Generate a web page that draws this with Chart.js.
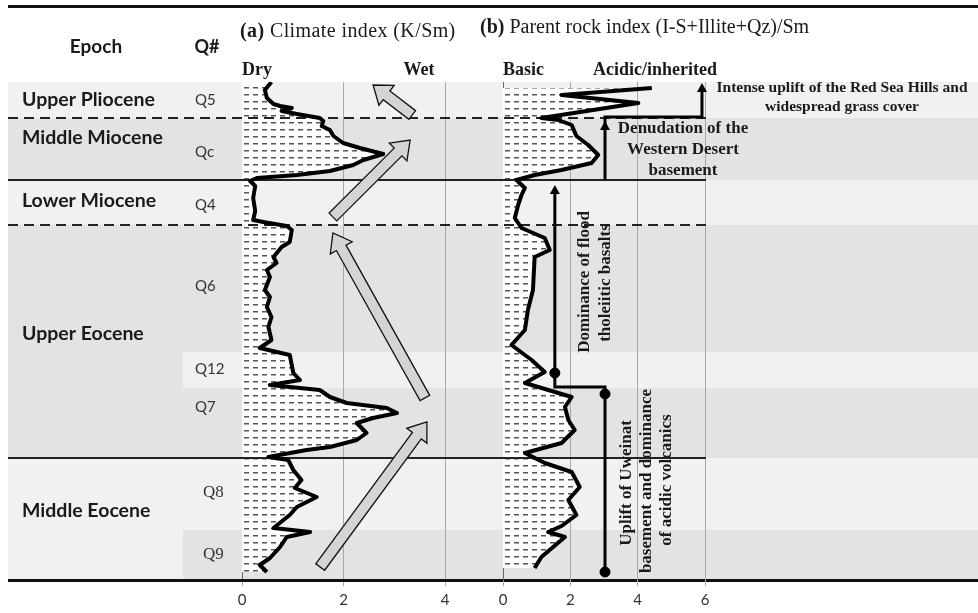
<!DOCTYPE html>
<html>
<head>
<meta charset="utf-8">
<script src="https://cdn.jsdelivr.net/npm/chart.js@4.4.1/dist/chart.umd.min.js"></script>
<style>
  body { margin: 0; background: #fff; }
  #wrap { position: relative; width: 978px; height: 613px; }
  #wrap canvas { position: absolute; left: 0; top: 0; }
</style>
</head>
<body>
<div id="wrap">
  <canvas id="climateChart" width="978" height="613"></canvas>
  <canvas id="rockChart" width="978" height="613"></canvas>
</div>
<script>
// stratigraphic position: 0 = top of the section, 498 = base
const climateDepth = [0, 8, 16, 22, 24, 26, 29, 32, 36, 39, 44, 48, 54, 61, 66, 72, 78, 83, 89, 93, 96, 99, 104, 116, 129, 138, 140, 144, 148, 160, 165, 175, 181, 188, 195, 208, 215, 225, 235, 245, 258, 266, 273, 291, 298, 303, 308, 315, 321, 326, 331, 336, 341, 351, 358, 365, 368, 375, 378, 388, 398, 406, 415, 425, 433, 446, 450, 455, 465, 476, 483, 490];
const climateIndex = [0.58, 0.45, 0.49, 0.62, 0.75, 0.98, 0.78, 1.08, 1.53, 1.60, 1.57, 1.73, 1.80, 1.99, 2.32, 2.78, 2.39, 2.19, 1.73, 1.08, 0.29, 0.16, 0.26, 0.22, 0.26, 0.22, 0.42, 0.88, 0.98, 0.94, 0.78, 0.62, 0.68, 0.49, 0.55, 0.45, 0.55, 0.49, 0.58, 0.52, 0.58, 0.35, 0.94, 1.01, 1.14, 0.55, 1.53, 1.73, 2.06, 2.85, 3.05, 2.58, 2.26, 2.45, 2.26, 1.73, 1.27, 0.52, 0.91, 1.01, 1.17, 1.04, 1.47, 1.08, 0.94, 0.62, 1.34, 0.88, 0.75, 0.55, 0.35, 0.49];

const rockDepth = [6, 13, 21, 36, 38, 43, 54, 63, 73, 81, 88, 93, 98, 106, 113, 123, 136, 146, 156, 168, 175, 208, 228, 248, 263, 278, 290, 301, 315, 325, 338, 348, 361, 371, 381, 390, 405, 418, 433, 444, 450, 455, 465, 475, 486];
const rockIndex = [4.42, 1.74, 4.02, 1.14, 1.64, 2.04, 2.18, 2.53, 2.83, 2.63, 1.74, 0.94, 0.40, 0.65, 0.55, 0.45, 0.35, 0.55, 1.24, 1.39, 0.94, 0.89, 0.74, 0.65, 0.25, 0.85, 1.24, 0.65, 2.04, 1.84, 1.94, 2.13, 1.74, 0.65, 1.24, 2.04, 2.28, 1.94, 2.18, 1.74, 1.34, 1.84, 1.49, 1.14, 0.94];

// provenance steps drawn on panel (b)
const basaltStepX = [3.03, 3.03, 1.54, 1.54];
const basaltStepY = [490, 305, 305, 106];
const denudStepX = [3.03, 3.03, 5.91, 5.91];
const denudStepY = [98, 35, 35, 4];
const stepDotX = [3.03, 3.03, 1.54];
const stepDotY = [490, 312, 291];

// trend arrows on panel (a): tail index, tail depth, tip index, tip depth
const trendTailX = [3.35, 1.79, 3.60, 1.54];
const trendTailY = [33, 135, 316, 485];
const trendTipX = [2.58, 3.31, 1.79, 3.64];
const trendTipY = [3, 58, 151, 340];

const epochNames = ['Upper Pliocene', 'Middle Miocene', 'Lower Miocene', 'Upper Eocene', 'Middle Eocene'];
const epochTops = [0, 36, 98, 143, 376];
const epochBases = [36, 98, 143, 376, 498];
const epochLabelAt = [18, 56, 119, 252, 429];
const qNames = ['Q5', 'Qc', 'Q4', 'Q6', 'Q12', 'Q7', 'Q8', 'Q9'];
const qLabelAt = [18, 70, 123, 204, 287, 325, 411, 473];
const subTops = [270, 448];
const subBases = [306, 498];
const dividerAt = [36, 98, 143, 376];
const dividerDashed = [true, false, true, false];

const climateTicks = [0, 2, 4];
const rockTicks = [0, 2, 4, 6];

const SERIF = '"Liberation Serif", "Times New Roman", serif';
const SANS = 'Lato, "Open Sans", sans-serif';
const LIGHT = '#f1f1f1', DARK = '#e3e3e3';
const epochShade = [LIGHT, DARK, LIGHT, DARK, LIGHT];
const subShade = [LIGHT, DARK];

function dashPattern() {
  const c = document.createElement('canvas');
  c.width = 9; c.height = 7;
  const g = c.getContext('2d');
  g.fillStyle = '#fff';
  g.fillRect(0, 0, 9, 7);
  g.fillStyle = '#555';
  g.fillRect(1, 3, 5, 1.5);
  return g.createPattern(c, 'repeat');
}

function text(ctx, s, x, y, font, align, color) {
  ctx.font = font;
  ctx.textAlign = align || 'left';
  ctx.textBaseline = 'middle';
  ctx.fillStyle = color || '#1a1a1a';
  ctx.fillText(s, x, y);
}

function upText(ctx, s, x, y, font) {
  ctx.save();
  ctx.translate(x, y);
  ctx.rotate(-Math.PI / 2);
  text(ctx, s, 0, 0, font, 'center');
  ctx.restore();
}

function blockArrow(ctx, x1, y1, x2, y2) {
  const dx = x2 - x1, dy = y2 - y1, len = Math.hypot(dx, dy);
  const ux = dx / len, uy = dy / len, nx = -uy, ny = ux;
  const w = 5.5, hw = 12.5, hl = 17;
  const bx = x2 - ux * hl, by = y2 - uy * hl;
  ctx.beginPath();
  ctx.moveTo(x1 + nx * w, y1 + ny * w);
  ctx.lineTo(bx + nx * w, by + ny * w);
  ctx.lineTo(bx + nx * hw, by + ny * hw);
  ctx.lineTo(x2, y2);
  ctx.lineTo(bx - nx * hw, by - ny * hw);
  ctx.lineTo(bx - nx * w, by - ny * w);
  ctx.lineTo(x1 - nx * w, y1 - ny * w);
  ctx.closePath();
  ctx.fillStyle = '#d4d4d4';
  ctx.fill();
  ctx.strokeStyle = '#111';
  ctx.lineWidth = 1.3;
  ctx.stroke();
}

function upHead(ctx, x, y) {
  ctx.beginPath();
  ctx.moveTo(x, y);
  ctx.lineTo(x - 5, y + 9);
  ctx.lineTo(x + 5, y + 9);
  ctx.closePath();
  ctx.fillStyle = '#000';
  ctx.fill();
}

function drawDividers(chart, left, right) {
  const {ctx, scales: {y}} = chart;
  ctx.save();
  ctx.beginPath();
  ctx.rect(left, 0, right - left, chart.height);
  ctx.clip();
  ctx.strokeStyle = '#222';
  ctx.lineWidth = 2;
  dividerAt.forEach((d, i) => {
    ctx.setLineDash(dividerDashed[i] ? [10, 6] : []);
    const py = Math.round(y.getPixelForValue(d));
    ctx.beginPath();
    ctx.moveTo(8, py);
    ctx.lineTo(706, py);
    ctx.stroke();
  });
  ctx.restore();
}

function depthAxis() {
  return {
    type: 'linear', min: 0, max: 498, reverse: true,
    ticks: { display: false },
    grid: { display: false, drawTicks: false },
    border: { display: true, dash: [1, 2], color: '#666', width: 1 }
  };
}

function indexAxis(max, ticks) {
  return {
    type: 'linear', position: 'bottom', min: 0, max: max,
    afterBuildTicks: s => { s.ticks = ticks.map(v => ({ value: v })); },
    afterFit: s => { s.height = 27; },
    grid: {
      color: c => (c.tick && c.tick.value === 0) ? 'rgba(0,0,0,0)' : '#a8a8a8',
      tickColor: '#a8a8a8', tickLength: 6, lineWidth: 1
    },
    border: { display: false },
    ticks: { font: { family: 'Lato', size: 15 }, color: '#333', padding: 5 }
  };
}

const pattern = dashPattern();

// panel (a) plus the shared section background
const sectionDecor = {
  id: 'sectionDecor',
  beforeDraw(chart) {
    const {ctx, scales: {y}} = chart;
    ctx.save();
    ctx.fillStyle = '#fff';
    ctx.fillRect(0, 0, chart.width, chart.height);
    epochTops.forEach((t, i) => {
      const y0 = y.getPixelForValue(t), y1 = y.getPixelForValue(epochBases[i]);
      ctx.fillStyle = epochShade[i];
      ctx.fillRect(8, y0, chart.width - 8, y1 - y0);
    });
    subTops.forEach((t, i) => {
      const y0 = y.getPixelForValue(t), y1 = y.getPixelForValue(subBases[i]);
      ctx.fillStyle = subShade[i];
      ctx.fillRect(183, y0, chart.width - 183, y1 - y0);
    });
    ctx.restore();
  },
  beforeDatasetsDraw(chart) {
    drawDividers(chart, 0, 500);
  },
  afterDraw(chart) {
    const {ctx, scales: {x, y}} = chart;
    ctx.save();
    // frame lines
    ctx.fillStyle = '#111';
    ctx.fillRect(8, 5, chart.width - 8, 3);
    ctx.fillRect(8, Math.round(y.getPixelForValue(498)) - 1, chart.width - 8, 3);

    trendTailX.forEach((v, i) => {
      blockArrow(ctx, x.getPixelForValue(v), y.getPixelForValue(trendTailY[i]),
        x.getPixelForValue(trendTipX[i]), y.getPixelForValue(trendTipY[i]));
    });

    text(ctx, 'Epoch', 96, 47, 'bold 19px ' + SANS, 'center');
    text(ctx, 'Q#', 207, 47, 'bold 18px ' + SANS, 'center');
    epochNames.forEach((s, i) => text(ctx, s, 22, y.getPixelForValue(epochLabelAt[i]), 'bold 19.5px ' + SANS));
    qNames.forEach((s, i) => {
      const serif = s === 'Q8' || s === 'Q9';
      text(ctx, s, serif ? 203 : 195, y.getPixelForValue(qLabelAt[i]),
        serif ? '17px ' + SERIF : '15px ' + SANS, 'left', '#333');
    });

    ctx.letterSpacing = '0.4px';
    text(ctx, '(a)', 240, 32, 'bold 20px ' + SERIF);
    let w = ctx.measureText('(a) ').width;
    text(ctx, 'Climate index (K/Sm)', 240 + w, 32, '20px ' + SERIF);
    ctx.letterSpacing = '0px';
    text(ctx, '(b)', 480, 28, 'bold 20px ' + SERIF);
    w = ctx.measureText('(b) ').width;
    text(ctx, 'Parent rock index (I-S+Illite+Qz)/Sm', 480 + w, 28, '20px ' + SERIF);

    text(ctx, 'Dry', 242, 70, 'bold 18px ' + SERIF);
    text(ctx, 'Wet', 419, 70, 'bold 18px ' + SERIF, 'center');
    ctx.restore();
  }
};

new Chart(document.getElementById('climateChart'), {
  type: 'line',
  data: {
    datasets: [{
      label: 'Climate index (K/Sm)',
      data: climateIndex.map((v, i) => ({ x: v, y: climateDepth[i] })),
      borderColor: '#000',
      borderWidth: 4,
      borderJoinStyle: 'round',
      backgroundColor: pattern,
      fill: 'origin',
      pointRadius: 0,
      tension: 0
    }]
  },
  options: {
    indexAxis: 'y',
    responsive: false,
    animation: false,
    layout: { padding: { left: 242, right: 482, top: 82, bottom: 6 } },
    scales: { x: indexAxis(5, climateTicks), y: depthAxis() },
    plugins: {
      legend: { display: false },
      tooltip: { enabled: false },
      filler: { drawTime: 'beforeDatasetsDraw' }
    }
  },
  plugins: [sectionDecor]
});

// panel (b), transparent canvas laid over panel (a)
const rockDecor = {
  id: 'rockDecor',
  beforeDatasetsDraw(chart) {
    drawDividers(chart, 500, 720);
  },
  afterDatasetsDraw(chart) {
    const {ctx, scales: {x, y}} = chart;
    ctx.save();
    upHead(ctx, x.getPixelForValue(basaltStepX[3]), y.getPixelForValue(basaltStepY[3]) - 3);
    upHead(ctx, x.getPixelForValue(denudStepX[0]), y.getPixelForValue(41) - 2);
    upHead(ctx, x.getPixelForValue(denudStepX[3]), y.getPixelForValue(denudStepY[3]) - 3);
    ctx.restore();
  },
  afterDraw(chart) {
    const {ctx} = chart;
    ctx.save();
    text(ctx, 'Basic', 503, 70, 'bold 18px ' + SERIF);
    text(ctx, 'Acidic/inherited', 593, 70, 'bold 18px ' + SERIF);

    const f1 = 'bold 15.5px ' + SERIF;
    text(ctx, 'Intense uplift of the Red Sea Hills and', 842, 88, f1, 'center');
    text(ctx, 'widespread grass cover', 842, 107, f1, 'center');
    const f2 = 'bold 17px ' + SERIF;
    text(ctx, 'Denudation of the', 683, 129, f2, 'center');
    text(ctx, 'Western Desert', 683, 150, f2, 'center');
    text(ctx, 'basement', 683, 171, f2, 'center');

    upText(ctx, 'Dominance of flood', 585, 282, f2);
    upText(ctx, 'tholeiitic basalts', 606, 283, f2);
    upText(ctx, 'Uplift of Uweinat', 627, 483, f2);
    upText(ctx, 'basement and dominance', 647, 481, f2);
    upText(ctx, 'of acidic volcanics', 667, 480, f2);
    ctx.restore();
  }
};

new Chart(document.getElementById('rockChart'), {
  type: 'line',
  data: {
    datasets: [{
      label: 'Parent rock index',
      data: rockIndex.map((v, i) => ({ x: v, y: rockDepth[i] })),
      borderColor: '#000',
      borderWidth: 4,
      borderJoinStyle: 'round',
      backgroundColor: pattern,
      fill: 'origin',
      pointRadius: 0,
      tension: 0
    }, {
      label: 'Basalt step',
      data: basaltStepX.map((v, i) => ({ x: v, y: basaltStepY[i] })),
      borderColor: '#000',
      borderWidth: 3,
      fill: false,
      pointRadius: 0
    }, {
      label: 'Denudation step',
      data: denudStepX.map((v, i) => ({ x: v, y: denudStepY[i] })),
      borderColor: '#000',
      borderWidth: 3,
      fill: false,
      pointRadius: 0
    }, {
      label: 'Step markers',
      data: stepDotX.map((v, i) => ({ x: v, y: stepDotY[i] })),
      showLine: false,
      fill: false,
      pointRadius: 5,
      pointBackgroundColor: '#000',
      pointBorderColor: '#000'
    }]
  },
  options: {
    indexAxis: 'y',
    responsive: false,
    animation: false,
    layout: { padding: { left: 503, right: 273, top: 82, bottom: 6 } },
    scales: { x: indexAxis(6, rockTicks), y: depthAxis() },
    plugins: {
      legend: { display: false },
      tooltip: { enabled: false },
      filler: { drawTime: 'beforeDatasetsDraw' }
    }
  },
  plugins: [rockDecor]
});
</script>
</body>
</html>
